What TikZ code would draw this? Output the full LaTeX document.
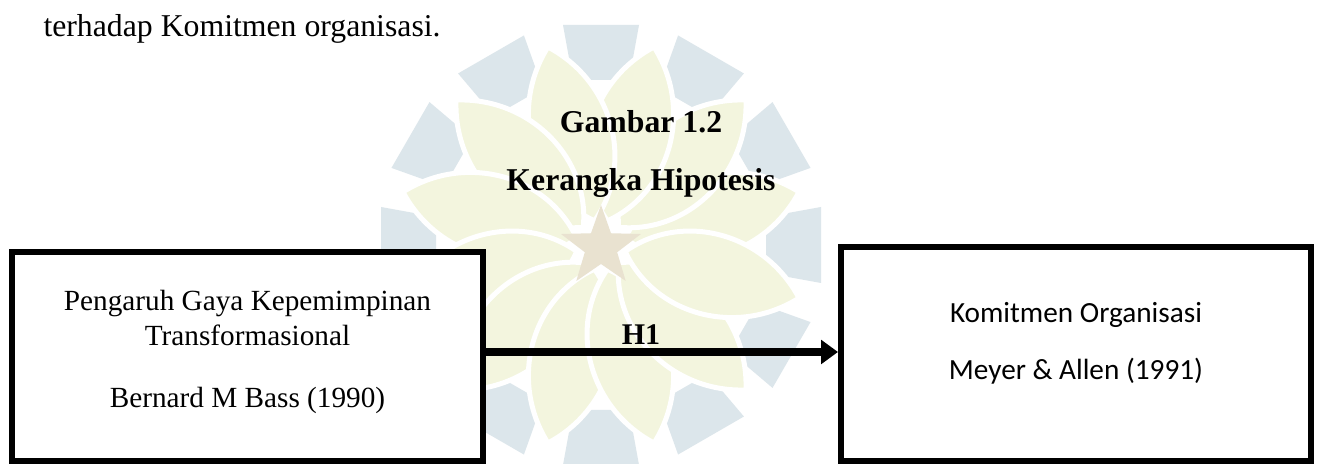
\documentclass[tikz,border=0pt]{standalone}
\usepackage{fontspec}
\setmainfont{Liberation Serif}
\newfontfamily\calibri{Carlito}
\usetikzlibrary{arrows.meta}

\definecolor{wmblue}{RGB}{220,230,235}
\definecolor{wmyellow}{RGB}{243,245,222}
\definecolor{wmstar}{RGB}{233,226,208}

\begin{document}
\begin{tikzpicture}[x=0.4pt,y=-0.4pt,
  varbox/.style={draw=black, fill=white, line width=2.4pt, rectangle, inner sep=0pt},
  serif/.style={font=\fontsize{11.7}{14}\selectfont, inner sep=0pt, anchor=base},
  bodytext/.style={font=\fontsize{12.7}{15}\selectfont, inner sep=0pt, anchor=base west},
  sans/.style={font=\calibri\fontsize{11.7}{14}\selectfont, inner sep=0pt, anchor=base},
  heading/.style={font=\fontsize{12.7}{15}\selectfont\bfseries, inner sep=0pt, anchor=base},
  label/.style={font=\fontsize{12}{14}\selectfont\bfseries, inner sep=0pt, anchor=base},
  link/.style={line width=3.2pt, -{Triangle[length=6.8pt,width=9.4pt]}},
  tile/.style={fill=wmblue},
  petal/.style={fill=wmyellow, draw=white, line width=2pt}
]
\useasboundingbox (0,0) rectangle (1321,464);
\fill[white] (0,0) rectangle (1321,464);

% logo in the background: outer tiles, petals and a star
\foreach \t in {0,30,...,330}{
  \begin{scope}[shift={(601,245)}, rotate=\t]
    \fill[tile] (165,-28) -- (220,-38) -- (220,38) -- (165,28) -- cycle;
  \end{scope}
}
\foreach \t in {15,45,...,345}{
  \begin{scope}[shift={(601,245)}, rotate=\t]
    \path[petal] (25,0) .. controls (70,54) and (155,54) .. (205,0)
                        .. controls (155,-54) and (70,-54) .. (25,0) -- cycle;
  \end{scope}
}
\begin{scope}[shift={(601,247)}]
  \fill[wmstar] (-90:42) -- (-54:17) -- (-18:42) -- (18:17) -- (54:42) -- (90:17)
                -- (126:42) -- (162:17) -- (198:42) -- (234:17) -- cycle;
\end{scope}

% running text above the figure
\node[bodytext] (intro) at (43,37) {terhadap Komitmen organisasi.};

% figure title
\node[heading] (title) at (641,133) {Gambar 1.2};
\node[heading] (subtitle) at (641,191) {Kerangka Hipotesis};

% the two variables
\node[varbox, minimum width=188.4pt, minimum height=83.6pt] (L) at (247.5,356.5) {};
\node[varbox, minimum width=188pt, minimum height=85.6pt] (R) at (1076,354) {};

\node[serif] (l1) at (247.5,311) {Pengaruh Gaya Kepemimpinan};
\node[serif] (l2) at (247.5,346) {Transformasional};
\node[serif] (l3) at (247.5,408) {Bernard M Bass (1990)};

\node[sans] (r1) at (1076,323) {Komitmen Organisasi};
\node[sans] (r2) at (1076,380) {Meyer \& Allen (1991)};

% hypothesis arrow
\coordinate (ay) at (0,352);
\draw[link] (L.east |- ay) -- (R.west |- ay);
\node[label] (h1) at (641,345) {H1};
\end{tikzpicture}
\end{document}
